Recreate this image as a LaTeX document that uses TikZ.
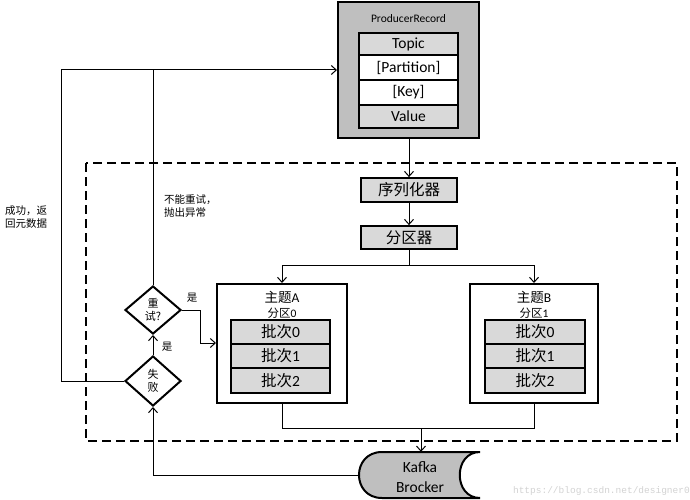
\documentclass[tikz,border=0pt]{standalone}
\usepackage{fontspec}
\setmainfont{Carlito}
\newfontfamily\cjk{Noto Sans CJK SC}
\newfontfamily\wmfont{Liberation Mono}
\usetikzlibrary{shapes.geometric,arrows.meta}
\definecolor{darkg}{HTML}{BFBFBF}
\definecolor{lightg}{HTML}{D9D9D9}
\begin{document}
\begin{tikzpicture}[x=1pt,y=-1pt,
  line/.style={line width=1pt},
  conn/.style={line width=1pt,-{Straight Barb[length=5pt,width=9pt,line width=1pt]}},
  frame/.style={draw,line width=2pt,inner sep=0pt},
  cell/.style={draw,line width=1.8pt,fill=lightg,inner sep=0pt,font=\fontsize{15.5}{17}\selectfont},
  dec/.style={diamond,draw,line width=2pt,fill=white,minimum width=56pt,inner sep=0pt,align=center,font=\cjk\fontsize{11}{13}\selectfont},
  lbl/.style={font=\cjk\fontsize{10.5}{13}\selectfont,inner sep=0pt}
]
\useasboundingbox (0,0) rectangle (690,500);
% dashed frame
\draw[line width=2.5pt,dash pattern=on 9pt off 5pt] (86,163) rectangle (677,441);

% ProducerRecord
\node[frame,fill=darkg,minimum width=141pt,minimum height=136pt] (pr) at (408.5,70) {};
\node[font=\fontsize{11.5}{13}\selectfont] (prl) at (408.5,19) {ProducerRecord};
\node[cell,minimum width=99pt,minimum height=22pt] (topic) at (408.5,44) {Topic};
\node[cell,fill=white,minimum width=99pt,minimum height=25pt] (partition) at (408.5,67.5) {[Partition]};
\node[cell,fill=white,minimum width=99pt,minimum height=25pt] (key) at (408.5,92.5) {[Key]};
\node[cell,minimum width=99pt,minimum height=23pt] (value) at (408.5,116.5) {Value};

% serializer, partitioner
\node[cell,minimum width=96pt,minimum height=24pt,font=\cjk\fontsize{15.5}{17}\selectfont] (ser) at (409,190) {序列化器};
\node[cell,minimum width=96pt,minimum height=23pt,font=\cjk\fontsize{15.5}{17}\selectfont] (part) at (409,237.5) {分区器};
\draw[conn] (pr.south -| ser.north) -- (ser.north);
\draw[conn] (ser.south) -- (part.north);

% topic A
\node[frame,fill=white,minimum width=130pt,minimum height=119pt] (ta) at (282,343.5) {};
\node[font=\fontsize{13.5}{15}\selectfont] (tat) at (282,297) {{\cjk 主题}A};
\node[font=\fontsize{11.5}{13}\selectfont] (tap) at (282,313) {{\cjk 分区}0};
\node[cell,minimum width=99pt,minimum height=24pt] (a0) at (280.5,332) {{\cjk 批次}0};
\node[cell,minimum width=99pt,minimum height=24pt] (a1) at (280.5,356) {{\cjk 批次}1};
\node[cell,minimum width=99pt,minimum height=25pt] (a2) at (280.5,380.5) {{\cjk 批次}2};

% topic B
\node[frame,fill=white,minimum width=128pt,minimum height=119pt] (tb) at (534,343.5) {};
\node[font=\fontsize{13.5}{15}\selectfont] (tbt) at (534,297) {{\cjk 主题}B};
\node[font=\fontsize{11.5}{13}\selectfont] (tbp) at (534,313) {{\cjk 分区}1};
\node[cell,minimum width=100pt,minimum height=24pt] (b0) at (535,332) {{\cjk 批次}0};
\node[cell,minimum width=100pt,minimum height=24pt] (b1) at (535,356) {{\cjk 批次}1};
\node[cell,minimum width=100pt,minimum height=25pt] (b2) at (535,380.5) {{\cjk 批次}2};

% split to topics
\coordinate (split) at (409,265);
\draw[line] (part.south) -- (split);
\draw[conn] (split) -| (ta.north);
\draw[conn] (split) -| (tb.north);

% Kafka broker
\node[minimum width=121pt,minimum height=46pt,inner sep=0pt] (kafka) at (419.5,475) {};
\draw[line width=2pt,fill=darkg] (480,452) -- (382,452) .. controls (351.3,452) and (351.3,498) .. (382,498) -- (480,498) .. controls (453,498) and (453,452) .. (480,452) -- cycle;
\node[font=\fontsize{15.5}{20}\selectfont,align=center] (kafkal) at (420,477) {Kafka\\Brocker};

% join to kafka
\coordinate (join) at (421,428);
\draw[line] (ta.south) -- (ta.south |- join) -- (tb.south |- join) -- (tb.south);
\draw[conn] (join) -- (join |- kafka.north);

% decisions
\node[dec,minimum height=50pt] (fail) at (153,381) {失\\败};
\node[dec,minimum height=48pt] (retry) at (153,310) {重\\试?};
\draw[conn] (kafka.west) -| (fail.south);
\draw[conn] (fail.north) -- (retry.south);
\node[lbl] (yes1) at (167,347) {是};
\coordinate (rj) at (200,343);
\draw[conn] (retry.east) -| (rj) -- (rj -| ta.west);
\node[lbl] (yes2) at (192,298) {是};

\coordinate (topL) at (61,70);
\draw[conn] (fail.west) -| (topL) -- (pr.west);
\draw[line] (retry.north) -- (retry.north |- topL);

\node[lbl,anchor=west,align=left] (succ) at (5,217) {成功，返\\回元数据};
\node[lbl,anchor=west,align=left] (noretry) at (164,206) {不能重试，\\抛出异常};

\node[font=\wmfont\fontsize{9.5}{11}\selectfont,text=gray!35,anchor=east,inner sep=0pt] (wm) at (690,491) {https://blog.csdn.net/designer0};
\end{tikzpicture}
\end{document}
